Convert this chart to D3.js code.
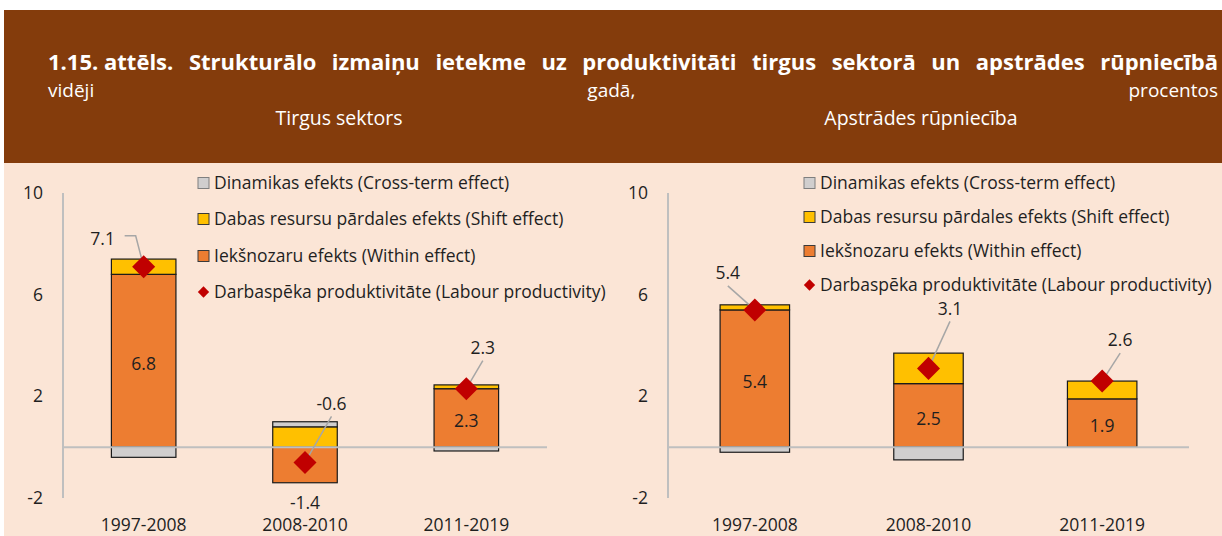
<!DOCTYPE html>
<html>
<head>
<meta charset="utf-8">
<script src="https://cdn.jsdelivr.net/npm/d3@7"></script>
<style>
  body { margin: 0; background: #fff; }
  svg text { font-family: "Open Sans", "Noto Sans", sans-serif; }
</style>
</head>
<body>
<div id="viz"></div>
<script>
// data
var categories = ["1997-2008", "2008-2010", "2011-2019"];

var marketWithin = [6.8, -1.4, 2.3],
    marketShift = [0.6, 0.8, 0.15],
    marketCross = [-0.4, 0.2, -0.15],
    marketProd = [7.1, -0.6, 2.3];

var manufWithin = [5.4, 2.5, 1.9],
    manufShift = [0.2, 1.2, 0.7],
    manufCross = [-0.2, -0.5, 0],
    manufProd = [5.4, 3.1, 2.6];

var yTicks = [-2, 2, 6, 10];

var titleWords = ["1.15. attēls.", "Strukturālo", "izmaiņu", "ietekme", "uz", "produktivitāti", "tirgus", "sektorā", "un", "apstrādes", "rūpniecībā"],
    subText = ["vidēji", "gadā,", "procentos"],
    panelTitles = ["Tirgus sektors", "Apstrādes rūpniecība"];

var legendItems = [
  { key: "cross", label: "Dinamikas efekts (Cross-term effect)" },
  { key: "shift", label: "Dabas resursu pārdales efekts (Shift effect)" },
  { key: "within", label: "Iekšnozaru efekts (Within effect)" },
  { key: "prod", label: "Darbaspēka produktivitāte (Labour productivity)" }
];

var colors = { within: "#ED7D31", shift: "#FFC000", cross: "#D0CECE", prod: "#C00000" };

var W = 1222, H = 536;

var svg = d3.select("#viz").append("svg")
  .attr("width", W)
  .attr("height", H);

svg.append("rect").attr("x", 0).attr("y", 0).attr("width", W).attr("height", H).attr("fill", "#fff");
svg.append("rect").attr("x", 4).attr("y", 10).attr("width", W - 4).attr("height", 153).attr("fill", "#843C0C");
svg.append("rect").attr("x", 4).attr("y", 163).attr("width", W - 4).attr("height", H - 163).attr("fill", "#FBE5D6");

// justified lines of text
function justify(words, x0, x1, y, size, weight) {
  var g = svg.append("g");
  var nodes = words.map(function(w) {
    return g.append("text").text(w)
      .attr("y", y)
      .attr("fill", "#fff")
      .style("font-size", size + "px")
      .style("font-weight", weight);
  });
  var widths = nodes.map(function(n) { return n.node().getComputedTextLength(); });
  var gap = (x1 - x0 - d3.sum(widths)) / (words.length - 1);
  var x = x0;
  nodes.forEach(function(n, i) {
    n.attr("x", x);
    x += widths[i] + gap;
  });
}

justify(titleWords, 48, 1218, 70, 22, "bold");
justify(subText, 48, 1218, 97, 19, "normal");

svg.selectAll(".panelTitle").data(panelTitles).enter().append("text")
  .attr("x", function(d, i) { return i == 0 ? 339 : 921; })
  .attr("y", 125)
  .attr("text-anchor", "middle")
  .attr("fill", "#fff")
  .style("font-size", "19.5px")
  .text(function(d) { return d; });

var panels = [
  { left: 63, right: 547, within: marketWithin, shift: marketShift, cross: marketCross, prod: marketProd,
    tickX: 43, legX: 198, legY: [183, 219, 256, 292],
    lab: [[-41, -28], [26.5, -59], [16.5, -41]] },
  { left: 668, right: 1189, within: manufWithin, shift: manufShift, cross: manufCross, prod: manufProd,
    tickX: 648, legX: 804, legY: [183, 217, 251, 285],
    lab: [[-27, -37], [21.5, -60], [18, -41]] }
];

var yScale = d3.scaleLinear().domain([-2, 10]).range([498, 193]);
var textCol = "#1f1f1f";
var fs = "17.5px";

panels.forEach(function(p) {
  var g = svg.append("g");

  var xScale = d3.scaleBand().domain(categories).range([p.left, p.right]);
  var bw = xScale.bandwidth() * 0.4;
  var cx = function(c) { return xScale(c) + xScale.bandwidth() / 2; };

  // y tick labels
  g.selectAll(".ytick").data(yTicks).enter().append("text")
    .attr("x", p.tickX)
    .attr("y", function(d) { return yScale(d); })
    .attr("dy", "0.35em")
    .attr("text-anchor", "end")
    .attr("fill", textCol)
    .style("font-size", fs)
    .text(function(d) { return d; });

  // stacked segments, positive and negative stacked apart
  var segs = [];
  categories.forEach(function(c, i) {
    var pos = 0, neg = 0;
    [["within", p.within[i]], ["shift", p.shift[i]], ["cross", p.cross[i]]].forEach(function(s) {
      var v = s[1];
      if (v == 0) return;
      var y0, y1;
      if (v > 0) { y0 = pos; y1 = pos + v; pos = y1; }
      else { y0 = neg; y1 = neg + v; neg = y1; }
      segs.push({ cat: c, key: s[0], v: v, y0: y0, y1: y1 });
    });
  });

  g.selectAll(".seg").data(segs).enter().append("rect")
    .attr("x", function(d) { return cx(d.cat) - bw / 2; })
    .attr("width", bw)
    .attr("y", function(d) { return yScale(Math.max(d.y0, d.y1)); })
    .attr("height", function(d) { return Math.abs(yScale(d.y0) - yScale(d.y1)); })
    .attr("fill", function(d) { return colors[d.key]; })
    .attr("stroke", "#1a1a1a")
    .attr("stroke-width", 1.2);

  // axes lines
  g.append("line")
    .attr("x1", p.left).attr("x2", p.left)
    .attr("y1", yScale(10)).attr("y2", yScale(-2))
    .attr("stroke", "#BFBFBF").attr("stroke-width", 2);
  g.append("line")
    .attr("x1", p.left).attr("x2", p.right)
    .attr("y1", yScale(0)).attr("y2", yScale(0))
    .attr("stroke", "#BFBFBF").attr("stroke-width", 2);

  // within labels
  g.selectAll(".wlab").data(categories).enter().append("text")
    .attr("x", cx)
    .attr("y", function(d, i) {
      var v = p.within[i];
      if (v < 0) return yScale(v) + 20;
      return (yScale(0) + yScale(v)) / 2 + 3;
    })
    .attr("dy", "0.35em")
    .attr("text-anchor", "middle")
    .attr("fill", textCol)
    .style("font-size", fs)
    .text(function(d, i) { return p.within[i].toFixed(1); });

  // leader lines + productivity labels
  categories.forEach(function(c, i) {
    var px = cx(c), py = yScale(p.prod[i]);
    var lx = px + p.lab[i][0], ly = py + p.lab[i][1];
    var path;
    if (p.lab[i][0] < -35) {
      path = "M" + (lx + 22) + "," + (ly - 3) + "H" + (lx + 33) + "L" + px + "," + py;
    } else {
      path = "M" + lx + "," + (ly + 13) + "L" + px + "," + py;
    }
    g.append("path").attr("d", path)
      .attr("fill", "none").attr("stroke", "#A6A6A6").attr("stroke-width", 1.5);
    g.append("text")
      .attr("x", lx).attr("y", ly).attr("dy", "0.35em")
      .attr("text-anchor", "middle")
      .attr("fill", textCol)
      .style("font-size", fs)
      .text(p.prod[i].toFixed(1));
  });

  g.selectAll(".pt").data(categories).enter().append("path")
    .attr("d", d3.symbol().type(d3.symbolSquare).size(265))
    .attr("transform", function(d, i) { return "translate(" + cx(d) + "," + yScale(p.prod[i]) + ") rotate(45)"; })
    .attr("fill", colors.prod);

  // category labels
  g.selectAll(".xlab").data(categories).enter().append("text")
    .attr("x", cx)
    .attr("y", 525)
    .attr("dy", "0.35em")
    .attr("text-anchor", "middle")
    .attr("fill", textCol)
    .style("font-size", fs)
    .text(function(d) { return d; });

  // legend
  var leg = g.selectAll(".leg").data(legendItems).enter().append("g")
    .attr("transform", function(d, i) { return "translate(" + p.legX + "," + p.legY[i] + ")"; });
  leg.filter(function(d) { return d.key != "prod"; }).append("rect")
    .attr("x", 0).attr("y", -5.5).attr("width", 11).attr("height", 11)
    .attr("fill", function(d) { return colors[d.key]; })
    .attr("stroke", function(d) { return d.key == "cross" ? "#7F7F7F" : "#3a3a3a"; })
    .attr("stroke-width", 1);
  leg.filter(function(d) { return d.key == "prod"; }).append("path")
    .attr("d", d3.symbol().type(d3.symbolSquare).size(64))
    .attr("transform", "translate(5.5,0) rotate(45)")
    .attr("fill", colors.prod);
  leg.append("text")
    .attr("x", 16)
    .attr("dy", "0.35em")
    .attr("fill", textCol)
    .style("font-size", fs)
    .text(function(d) { return d.label; });
});
</script>
</body>
</html>
